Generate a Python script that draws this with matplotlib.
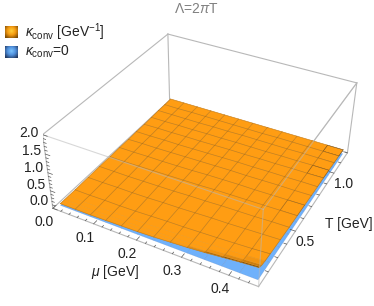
import numpy as np
import matplotlib
matplotlib.use('Agg')
import matplotlib.pyplot as plt
from matplotlib.colors import LinearSegmentedColormap
from mpl_toolkits.mplot3d import proj3d

plt.rcParams['font.family'] = ['Liberation Sans', 'DejaVu Sans']
plt.rcParams['mathtext.fontset'] = 'custom'
plt.rcParams['mathtext.rm'] = 'Liberation Sans'
plt.rcParams['mathtext.it'] = 'Liberation Sans:italic'

# data
mu_grid = [0.008, 0.045, 0.082, 0.119, 0.156, 0.193, 0.230, 0.267, 0.304, 0.341, 0.378, 0.415, 0.452]
T_grid = [0.135, 0.150, 0.170, 0.200, 0.255, 0.365, 0.465, 0.560, 0.650, 0.735, 0.815, 0.895, 0.970,
          1.045, 1.115, 1.180]
T_mesh = [0.135, 0.255, 0.365, 0.465, 0.560, 0.650, 0.735, 0.815, 0.895, 0.970, 1.045, 1.115, 1.180]
# kappa_conv, one row per mu, one column per T
kappa = [
    [.05, .05, .05, .05, .05, .06, .07, .07, .08, .08, .09, .09, .10, .11, .11, .12],
    [.05, .05, .05, .05, .05, .06, .07, .07, .08, .09, .09, .10, .10, .11, .11, .12],
    [.05, .05, .05, .05, .06, .07, .07, .08, .09, .09, .10, .10, .11, .11, .12, .12],
    [.06, .06, .06, .06, .06, .07, .08, .09, .09, .10, .10, .11, .11, .11, .12, .12],
    [.07, .07, .07, .07, .07, .08, .09, .10, .10, .11, .11, .11, .12, .12, .12, .12],
    [.08, .08, .08, .08, .09, .10, .10, .11, .11, .12, .12, .12, .12, .12, .12, .12],
    [.10, .10, .10, .10, .11, .11, .12, .12, .13, .13, .13, .13, .13, .13, .12, .12],
    [.13, .125, .12, .12, .12, .13, .13, .14, .14, .14, .14, .13, .13, .13, .12, .12],
    [.16, .15, .145, .14, .14, .15, .15, .15, .15, .14, .14, .14, .13, .13, .13, .12],
    [.20, .18, .17, .165, .16, .16, .16, .16, .15, .15, .15, .14, .14, .13, .13, .12],
    [.25, .22, .205, .195, .185, .18, .17, .17, .16, .16, .15, .15, .14, .14, .13, .12],
    [.30, .26, .24, .225, .21, .20, .19, .18, .17, .16, .16, .15, .15, .14, .13, .12],
    [.34, .30, .275, .26, .245, .22, .20, .19, .18, .17, .16, .16, .15, .14, .13, .12],
]
mu_ticks = [0.0, 0.1, 0.2, 0.3, 0.4]
T_ticks = [0.5, 1.0]
z_ticks = [0.0, 0.5, 1.0, 1.5, 2.0]
mu_lim = (0, 0.46)
T_lim = (0.1, 1.2)
z_lim = (0, 2)

W, H = 374, 306
fig = plt.figure(figsize=(W / 100, H / 100), dpi=100)
ax = fig.add_axes([43.08 / W, -2.93 / H, 320.25 / W, 320.25 / H], projection='3d')
ax.set_xlim(*mu_lim, view_margin=0)
ax.set_ylim(*T_lim, view_margin=0)
ax.set_zlim(*z_lim, view_margin=0)
ax.view_init(elev=35.324, azim=-62.166, roll=-0.416)
ax.set_proj_type('persp', focal_length=0.455)
ax.set_box_aspect((1.123, 1.144, 0.443))
ax.set_axis_off()
ax.computed_zorder = False
ax.patch.set_alpha(0)
M = ax.get_proj()

x0, x1 = mu_lim
y0, y1 = T_lim
z0, z1 = z_lim
box = '#b8b8b8'


def edge(a, b, z, color=box, lw=0.8, alpha=1.0):
    ax.plot([a[0], b[0]], [a[1], b[1]], [a[2], b[2]], color=color, lw=lw, alpha=alpha, zorder=z)


# back edges, behind the sheets
edge((x0, y1, z0), (x0, y1, z1), 1)
edge((x1, y1, z0), (x1, y1, z1), 1)
edge((x0, y0, z0), (x0, y1, z0), 1)
edge((x0, y1, z0), (x1, y1, z0), 1)
edge((x0, y1, z1), (x1, y1, z1), 1)
edge((x0, y1, z1), (x0, y0, z1), 1)
edge((x1, y1, z1), (x1, y0, z1), 1)
edge((x0, y0, z0), (x0, y0, z1), 1)
edge((x1, y1, z0), (x1, y0, z0), 5)
edge((x0, y0, z0), (x1, y0, z0), 5)

mu = np.array(mu_grid)
T = np.array(T_grid)
Tm = np.array(T_mesh)
Z = np.array(kappa)

# kappa = 0 sheet
MUb, TTb = np.meshgrid(mu, Tm, indexing='ij')
ax.plot_surface(MUb, TTb, np.zeros_like(MUb), rstride=1, cstride=1, color='#6fb1fb', shade=False,
                edgecolor=(0.3, 0.45, 0.7, 0.3), linewidth=0.4, zorder=2)

# kappa sheet, darker where it falls steeply towards low T
MU, TT = np.meshgrid(mu, T, indexing='ij')
base = np.array([1.0, 0.615, 0.075])
dz = (Z[:-1, :-1] - Z[:-1, 1:]) / np.diff(T)
slope = np.clip(0.28 * (dz - 0.3), 0, 0.72)
faces = np.ones(slope.shape + (4,))
faces[..., :3] = base * (1 - slope[..., None])
surf = ax.plot_surface(MU, TT, Z, rstride=1, cstride=1, facecolors=faces, shade=False,
                       linewidth=0.3, antialiased=True, zorder=3)
surf.set_edgecolor(surf.get_facecolor())

# mesh lines on the kappa sheet
mesh_c = (0.55, 0.36, 0.1, 0.45)
for i in range(len(mu)):
    ax.plot(MU[i], TT[i], Z[i], color=mesh_c, lw=0.5, zorder=3.5)
for t in T_mesh:
    j = T_grid.index(t)
    ax.plot(MU[:, j], TT[:, j], Z[:, j], color=mesh_c, lw=0.5, zorder=3.5)

# front edges, faintly seen over the sheets
edge((x1, y0, z0), (x1, y0, z1), 4, alpha=0.55)
edge((x0, y0, z1), (x1, y0, z1), 4, alpha=0.55)
edge((x1, y0, z1), (x1, y1, z1), 4, alpha=0.55)

# tick marks
tc = '#555555'
for m in np.arange(0, 0.4401, 0.02):
    big = abs(m * 10 - round(m * 10)) < 1e-6
    edge((m, y0, z0), (m, y0 + (0.025 if big else 0.012), z0), 5, color=tc, lw=0.5)
for t in np.arange(0.2, 1.201, 0.1):
    big = abs(t * 2 - round(t * 2)) < 1e-6
    edge((x1, t, z0), (x1 - (0.011 if big else 0.006), t, z0), 5, color=tc, lw=0.5)
for v in np.arange(0, 2.001, 0.1):
    big = abs(v * 2 - round(v * 2)) < 1e-6
    edge((x0, y0, v), (x0 + (0.011 if big else 0.006), y0, v), 5, color=tc, lw=0.5)


def label(xv, yv, zv, s, dx, dy):
    px, py, _ = proj3d.proj_transform(xv, yv, zv, M)
    ax.annotate(s, xy=(px, py), xytext=(dx, dy), textcoords='offset pixels', fontsize=10,
                color='#222222', ha='center', va='center', annotation_clip=False, zorder=6)


for m in mu_ticks:
    label(m, y0, z0, '%.1f' % m, -9, -14)
for t in T_ticks:
    label(x1, t, z0, '%.1f' % t, 10, -11)
for v, dy in zip(z_ticks, [7, 6, 5, 3, 2]):
    label(x0, y0, v, '%.1f' % v, -14, dy)

fig.text(115 / W, 1 - 272 / H, r'$\mu$ [GeV]', fontsize=10, color='#222222', ha='center', va='center')
fig.text(349 / W, 1 - 224 / H, 'T [GeV]', fontsize=10, color='#222222', ha='center', va='center')
fig.text(196 / W, 1 - 9 / H, r'Λ=2$\pi$T', fontsize=10, color='#808080', ha='center', va='center')
fig.text(25 / W, 1 - 32 / H, r'$\kappa_{\mathrm{conv}}$ [GeV$^{-1}$]', fontsize=10, color='#222222', va='center')
fig.text(25 / W, 1 - 52 / H, r'$\kappa_{\mathrm{conv}}$=0', fontsize=10, color='#222222', va='center')


def swatch(y_top, colors):
    sw = fig.add_axes([5 / W, 1 - (y_top + 12.5) / H, 12.5 / W, 12.5 / H])
    g = np.linspace(-1, 1, 25)
    gx, gy = np.meshgrid(g, g)
    r = np.hypot(gx, gy + 0.1) / 1.35
    sw.imshow(r, cmap=LinearSegmentedColormap.from_list('sw', colors), vmin=0, vmax=1, interpolation='bilinear')
    sw.axis('off')


swatch(26, ['#ffd23c', '#f59a10', '#7a4a05'])
swatch(45.5, ['#7cc6ff', '#4f8fdc', '#22385e'])

fig.savefig('out.png', dpi=100)
